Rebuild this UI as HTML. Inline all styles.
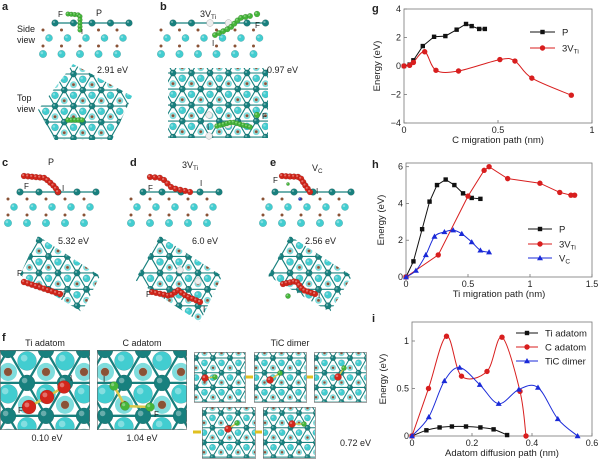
<!DOCTYPE html>
<html><head><meta charset="utf-8"><style>
body{margin:0;background:#fff}
svg{display:block;font-family:"Liberation Sans",sans-serif}
</style></head><body>
<svg id="fig" width="600" height="461" viewBox="0 0 600 461" xmlns="http://www.w3.org/2000/svg">
<defs>
<clipPath id="clipA"><polygon points="73,64 132,96 112,140 55,140 38,110"/></clipPath>
<clipPath id="clipB"><rect x="168" y="68" width="100" height="70"/></clipPath>
<clipPath id="clipC"><polygon points="38,236 100,276 82,312 20,275"/></clipPath>
<clipPath id="clipD"><polygon points="160,236 222,276 200,322 135,280"/></clipPath>
<clipPath id="clipE"><polygon points="290,236 352,276 330,312 268,276"/></clipPath>
<clipPath id="clipF1"><rect x="0" y="350" width="90" height="80"/></clipPath>
<clipPath id="clipF2"><rect x="97" y="350" width="90" height="80"/></clipPath>
<clipPath id="clipT1"><rect x="194" y="352" width="51" height="50"/></clipPath>
<clipPath id="clipT2"><rect x="254" y="352" width="52" height="50"/></clipPath>
<clipPath id="clipT3"><rect x="314" y="352" width="52" height="50"/></clipPath>
<clipPath id="clipT4"><rect x="202" y="407" width="53" height="51"/></clipPath>
<clipPath id="clipT5"><rect x="263" y="407" width="52" height="51"/></clipPath>
</defs>
<g id="structs"></g>
<g id="charts"></g>
</svg>
<script>
// ---------- chart data ----------
const gPx=[0,0.03,0.05,0.1,0.16,0.22,0.28,0.33,0.36,0.4,0.43];
const gPy=[0,0.1,0.4,1.4,2.05,2.1,2.55,2.95,2.8,2.6,2.6];
const gVx=[0,0.03,0.05,0.11,0.17,0.29,0.51,0.59,0.68,0.89];
const gVy=[0,0.05,0.25,1.0,-0.3,-0.35,0.45,0.35,-0.85,-2.05];
const gXt=[0,0.5,1], gXl=['0','0.5','1'];
const gYt=[-4,-2,0,2,4], gYl=['−4','−2','0','2','4'];

const hPx=[0,0.06,0.13,0.19,0.25,0.32,0.39,0.46,0.53,0.6];
const hPy=[0,0.85,2.6,4.1,5.0,5.3,5.0,4.55,4.3,4.25];
const hVx=[0,0.26,0.5,0.63,0.67,0.82,1.08,1.24,1.33,1.36];
const hVy=[0,1.2,4.4,5.8,6.0,5.35,5.1,4.6,4.45,4.45];
const hCx=[0,0.08,0.16,0.23,0.31,0.38,0.45,0.53,0.6,0.67];
const hCy=[0,0.35,1.2,2.2,2.45,2.55,2.35,1.9,1.45,1.35];
const hXt=[0,0.5,1,1.5], hXl=['0','0.5','1','1.5'];
const hYt=[0,2,4,6], hYl=['0','2','4','6'];

const iTx=[0,0.048,0.092,0.133,0.18,0.228,0.272,0.317];
const iTy=[0,0.06,0.09,0.1,0.1,0.09,0.07,0.01];
const iCx=[0,0.055,0.115,0.165,0.25,0.3,0.36,0.38];
const iCy=[0,0.5,1.05,0.63,0.68,1.04,0.47,0];
const iDx=[0,0.056,0.108,0.159,0.226,0.289,0.356,0.42,0.486,0.552];
const iDy=[0,0.2,0.58,0.72,0.54,0.34,0.49,0.51,0.18,0.0];
const iXt=[0,0.2,0.4,0.6], iXl=['0','0.2','0.4','0.6'];
const iYt=[0,0.5,1], iYl=['0','0.5','1'];

const NS='http://www.w3.org/2000/svg';
function el(tag,attrs,parent){const e=document.createElementNS(NS,tag);for(const k in attrs)e.setAttribute(k,attrs[k]);parent.appendChild(e);return e;}
function txt(parent,x,y,s,size,anchor,weight){const t=el('text',{x:x,y:y,'font-size':size,'text-anchor':anchor||'start','font-weight':weight||'normal',fill:'#222'},parent);t.textContent=s;return t;}

function spline(pts){let d='M'+pts[0][0]+','+pts[0][1];for(let i=0;i<pts.length-1;i++){const p0=pts[i-1]||pts[i],p1=pts[i],p2=pts[i+1],p3=pts[i+2]||p2;const c1=[p1[0]+(p2[0]-p0[0])/6,p1[1]+(p2[1]-p0[1])/6],c2=[p2[0]-(p3[0]-p1[0])/6,p2[1]-(p3[1]-p1[1])/6];d+=' C'+c1+' '+c2+' '+p2;}return d;}

function chart(name,b,xmax,ymin,ymax,xt,xl,yt,yl,xlabel,ylx){
  const root=document.getElementById('charts');
  const g=el('g',{},root);
  
  
  const X=v=>b.x0+(v/xmax)*(b.x1-b.x0);
  const Y=v=>b.y1-(v-ymin)/(ymax-ymin)*(b.y1-b.y0);
  const frame=el('rect',{x:b.x0,y:b.y0,width:b.x1-b.x0,height:b.y1-b.y0,fill:'none',stroke:'#777','stroke-width':0.8},g);
  
  
  xt.forEach((v,i)=>{el('line',{x1:X(v),x2:X(v),y1:b.y1,y2:b.y1-3,stroke:'#777','stroke-width':0.8},g);
    const t=txt(g,X(v),b.y1+10,xl[i],9,'middle');});
  yt.forEach((v,i)=>{el('line',{x1:b.x0,x2:b.x0+3,y1:Y(v),y2:Y(v),stroke:'#777','stroke-width':0.8},g);
    const t=txt(g,b.x0-3,Y(v)+3,yl[i],9,'end');});
  const xlab=txt(g,(b.x0+b.x1)/2,b.y1+20,xlabel,9.5,'middle');
  
  const cy=(b.y0+b.y1)/2;
  const ylab=txt(g,ylx,cy,'Energy (eV)',9.5,'middle');ylab.setAttribute('transform','rotate(-90 '+ylx+' '+cy+')');
  
  return {g,X,Y};
}
function series(c,name,xs,ys,color,marker,smooth){
  const g=el('g',{},c.g);
  
  
  const pts=xs.map((x,i)=>[c.X(x),c.Y(ys[i])]);
  if(smooth) el('path',{d:spline(pts),fill:'none',stroke:color,'stroke-width':1},g);
  else el('polyline',{points:pts.map(p=>p.join(',')).join(' '),fill:'none',stroke:color,'stroke-width':1},g);
  pts.forEach(p=>mark(g,p[0],p[1],color,marker));
}
function mark(g,x,y,color,m){
  let e;
  if(m==='s') e=el('rect',{x:x-2.2,y:y-2.2,width:4.4,height:4.4,fill:color},g);
  else if(m==='c') e=el('circle',{cx:x,cy:y,r:2.7,fill:color},g);
  else e=el('polygon',{points:(x)+','+(y-3)+' '+(x+3)+','+(y+2.2)+' '+(x-3)+','+(y+2.2),fill:color},g);
  
  
}
function legend(c,x1,x2,y,color,m,label,sub){
  const g=el('g',{},c.g);
  
  
  el('line',{x1:x1,x2:x2,y1:y,y2:y,stroke:color,'stroke-width':1},g);
  mark(g,(x1+x2)/2,y,color,m);
  const t=txt(g,x2+7,y+3.5,label,9.5);
  if(sub){const s=el('tspan',{'font-size':6.5,dy:2},t);s.textContent=sub;}
}

let cg=chart('chart-g-c-migration',{x0:404,x1:592,y0:9,y1:123},1,-4,4,gXt,gXl,gYt,gYl,'C migration path (nm)',380);
series(cg,'series-p',gPx,gPy,'#111','s',false);
series(cg,'series-3vti',gVx,gVy,'#d81e1e','c',true);
legend(cg,530,555,32,'#111','s','P');
legend(cg,530,555,48,'#d81e1e','c','3V','Ti');
let ch=chart('chart-h-ti-migration',{x0:406,x1:592,y0:163,y1:277},1.5,0,6.2,hXt,hXl,hYt,hYl,'Ti migration path (nm)',384);
series(ch,'series-p',hPx,hPy,'#111','s',false);
series(ch,'series-3vti',hVx,hVy,'#d81e1e','c',false);
series(ch,'series-vc',hCx,hCy,'#1a2ad8','t',true);
legend(ch,528,552,229,'#111','s','P');
legend(ch,528,552,244,'#d81e1e','c','3V','Ti');
legend(ch,528,552,258,'#1a2ad8','t','V','C');
let ci=chart('chart-i-adatom-diffusion',{x0:412,x1:592,y0:322,y1:436},0.6,0,1.2,iXt,iXl,iYt,iYl,'Adatom diffusion path (nm)',386);
series(ci,'series-ti-adatom',iTx,iTy,'#111','s',true);
series(ci,'series-c-adatom',iCx,iCy,'#d81e1e','c',true);
series(ci,'series-tic-dimer',iDx,iDy,'#1a2ad8','t',true);
legend(ci,516,538,333,'#111','s','Ti adatom');
legend(ci,516,538,347,'#d81e1e','c','C adatom');
legend(ci,516,538,361,'#1a2ad8','t','TiC dimer');
const cr=document.getElementById('charts');
[['g',372,12],['h',372,168],['i',372,322]].forEach(a=>{const t=txt(cr,a[1],a[2],a[0],11,'start','bold');});

// ---------- structures ----------
const S=document.getElementById('structs');
const DK='#18807e',CY='#42cdd0',BR='#8a5236',RD='#d3261b',GR='#45b53a';
function panel(name){const g=el('g',{},S);return g;}
function atom(g,x,y,r,col){el('circle',{cx:x,cy:y,r:r,fill:col,stroke:'rgba(0,0,0,0.25)','stroke-width':0.4},g);el('circle',{cx:x-r*0.3,cy:y-r*0.3,r:r*0.35,fill:'rgba(255,255,255,0.35)'},g);}
function side(g,x0,y0,n,dx,vac){
  el('line',{x1:x0-3,x2:x0+(n-1)*dx+3,y1:y0,y2:y0,stroke:DK,'stroke-width':1.2},g);
  for(let i=0;i<n;i++){if(vac&&vac.includes(i)){el('circle',{cx:x0+i*dx,cy:y0,r:3.4,fill:'#eee',stroke:'#aaa','stroke-width':0.5},g);}else atom(g,x0+i*dx,y0,3.4,DK);}
  for(let i=0;i<n;i++){el('circle',{cx:x0-12+i*dx,cy:y0+7,r:1.5,fill:BR},g);}
  for(let i=0;i<n;i++) atom(g,x0-6+i*dx,y0+15,3.6,CY);
  for(let i=0;i<n;i++) el('circle',{cx:x0-12+i*dx,cy:y0+23,r:1.5,fill:BR},g);
  for(let i=0;i<n;i++) atom(g,x0-12+i*dx,y0+31,3.8,CY);
}
function topView(g,clip,x0,y0,cols,rows,s,rd,rc){
  const c=el('g',{'clip-path':'url(#'+clip+')'},g);
  const h=s*0.866;
  const node=(i,j)=>[x0+i*s+(j&1)*s/2,y0+j*h];
  for(let j=-1;j<rows;j++)for(let i=-1;i<cols;i++){const p=node(i,j);
    atom(c,p[0]+s/2,p[1]+s*0.289,rc,CY);
    el('circle',{cx:p[0]+s,cy:p[1]+s*0.577,r:rc*0.95,fill:'#7edddd'},c);
    el('circle',{cx:p[0]+s,cy:p[1]+s*0.577,r:rc*0.45,fill:BR,stroke:'#ccc','stroke-width':0.4},c);}
  for(let j=-1;j<rows;j++)for(let i=-1;i<cols;i++){const p=node(i,j),r=node(i+1,j),d1=node(i,j+1),d2=node(i+((j&1)?1:-1),j+1);
    [r,d1,d2].forEach(q=>el('line',{x1:p[0],y1:p[1],x2:q[0],y2:q[1],stroke:DK,'stroke-width':Math.max(0.8,s*0.06)},c));}
  for(let j=-1;j<rows;j++)for(let i=-1;i<cols;i++){const p=node(i,j);atom(c,p[0],p[1],rd,DK);}
  return c;
}
function beads(g,pts,r,col,n){
  let L=[0];for(let i=1;i<pts.length;i++)L.push(L[i-1]+Math.hypot(pts[i][0]-pts[i-1][0],pts[i][1]-pts[i-1][1]));
  const T=L[L.length-1];
  for(let k=0;k<n;k++){const d=T*k/(n-1);let i=1;while(i<L.length-1&&L[i]<d)i++;const f=(d-L[i-1])/((L[i]-L[i-1])||1);
    atom(g,pts[i-1][0]+f*(pts[i][0]-pts[i-1][0]),pts[i-1][1]+f*(pts[i][1]-pts[i-1][1]),r,col);}
}
function label(g,x,y,s,size,anchor,bold,sub){const t=txt(g,x,y,s,size,anchor,bold?'bold':'normal');if(sub){const q=el('tspan',{'font-size':size*0.7,dy:2},t);q.textContent=sub;}return t;}

let p=panel('panel-a');
label(p,2,10,'a',11,'start',true);
side(p,55,23,5,18.5);
beads(p,[[68,14],[80,15],[80,30]],2.4,GR,9);
label(p,58,17,'F',8);label(p,96,16,'P',9);label(p,81,34,'I',7);
label(p,17,32,'Side',9);label(p,17,43,'view',9);
topView(p,'clipA',55,74,6,6,18.5,3.2,3.6);
beads(p,[[68,120],[82,120]],2.6,GR,5);
label(p,97,73,'2.91 eV',9);
label(p,17,101,'Top',9);label(p,17,112,'view',9);

p=panel('panel-b');
label(p,160,10,'b',11,'start',true);
side(p,173,23,6,18.5,[2,3]);
beads(p,[[215,35],[230,28],[240,18],[250,16]],2.8,GR,10);
atom(p,257,14,3,GR);
label(p,200,17,'3V',9,'start',false,'Ti');label(p,255,28,'F',8);label(p,212,46,'I',8);
topView(p,'clipB',173,73,6,5,18.5,3.2,3.6);
[[209,115],[228,125],[209,136]].forEach(q=>el('circle',{cx:q[0],cy:q[1],r:3.3,fill:'#eee',stroke:'#aaa','stroke-width':0.5},p));
beads(p,[[217,126],[232,122],[250,127]],2.6,GR,11);
atom(p,257,115,3,GR);label(p,262,119,'F',8);label(p,207,130,'I',8);
label(p,267,73,'0.97 eV',9);

p=panel('panel-c');
label(p,2,166,'c',11,'start',true);
side(p,20,192,5,19);
beads(p,[[24,176],[45,178],[55,187],[58,192]],3,RD,11);
label(p,48,165,'P',9);label(p,24,189,'F',8);label(p,62,191,'I',8);
topView(p,'clipC',20,240,6,6,19,3.3,3.6);
beads(p,[[24,282],[60,294]],3.1,RD,10);
label(p,17,276,'F',8);label(p,63,297,'I',8);
label(p,58,244,'5.32 eV',9);

p=panel('panel-d');
label(p,130,166,'d',11,'start',true);
side(p,143,192,5,19);
beads(p,[[150,177],[162,178],[172,188],[190,192]],3,RD,10);
label(p,182,168,'3V',9,'start',false,'Ti');label(p,148,191,'F',8);label(p,200,186,'I',8);
topView(p,'clipD',160,240,6,6,19,3.3,3.6);
[[180,270],[198,281]].forEach(q=>el('circle',{cx:q[0],cy:q[1],r:3.3,fill:'#eee',stroke:'#bbb','stroke-width':0.6},p));
beads(p,[[152,292],[170,296],[178,290],[186,296],[200,302]],3,RD,14);
label(p,146,297,'F',8);label(p,203,312,'I',8);
label(p,192,244,'6.0 eV',9);

p=panel('panel-e');
label(p,270,166,'e',11,'start',true);
side(p,275,192,5,19);
beads(p,[[282,176],[300,177],[305,185],[310,192]],3,RD,10);
atom(p,288,184,1.6,GR);atom(p,300,199,1.6,'#2233bb');
label(p,312,171,'V',9,'start',false,'C');label(p,273,183,'F',8);label(p,316,194,'I',8);
topView(p,'clipE',290,240,6,6,19,3.3,3.6);
beads(p,[[283,284],[296,281],[303,290],[315,294]],3,RD,11);
atom(p,288,296,2.6,GR);
label(p,318,298,'I',8);
label(p,305,244,'2.56 eV',9);

p=panel('panel-f');
label(p,2,341,'f',11,'start',true);
label(p,45,346,'Ti adatom',9,'middle');
label(p,142,346,'C adatom',9,'middle');
label(p,290,346,'TiC dimer',9,'middle');
topView(p,'clipF1',8,350,3,3,38,8,9.5);
el('rect',{x:0.5,y:350.5,width:89,height:79,fill:'none',stroke:'#666','stroke-width':0.6},p);
el('line',{x1:29,y1:407,x2:64,y2:387,stroke:'#d8c84a','stroke-width':2.5},p);
atom(p,29,407,7,RD);atom(p,47,397,7,RD);atom(p,64,387,6.5,RD);
label(p,18,413,'F',8);label(p,70,381,'I',8);
topView(p,'clipF2',105,350,3,3,38,8,9.5);
el('rect',{x:97.5,y:350.5,width:89,height:79,fill:'none',stroke:'#666','stroke-width':0.6},p);
el('polyline',{points:'114,386 125,406 150,407',fill:'none',stroke:'#d8c84a','stroke-width':2.5},p);
atom(p,114,386,4.5,GR);atom(p,125,406,4.5,GR);atom(p,150,407,4.5,GR);
label(p,103,382,'I',8);label(p,154,417,'F',8);
label(p,47,441,'0.10 eV',9,'middle');label(p,142,441,'1.04 eV',9,'middle');
const boxes=[['clipT1',194,352,51,50,205,378,215,377],['clipT2',254,352,52,50,270,380,280,373],['clipT3',314,352,52,50,338,377,344,368],['clipT4',202,407,53,51,228,429,237,423],['clipT5',263,407,52,51,292,424,304,424]];
boxes.forEach(bx=>{topView(p,bx[0],bx[1]+2,bx[2]+6,4,4,17,2.8,3.2);
  el('rect',{x:bx[1]+0.5,y:bx[2]+0.5,width:bx[3],height:bx[4],fill:'none',stroke:'#666','stroke-width':0.6},p);
  el('line',{x1:bx[5],y1:bx[6],x2:bx[7],y2:bx[8],stroke:'#d8c84a','stroke-width':1.5},p);
  atom(p,bx[5],bx[6],3.6,RD);atom(p,bx[7],bx[8],2.6,GR);});
[[246,377,253],[307,377,313],[193,432,201],[255,432,262]].forEach(a=>{el('line',{x1:a[0],x2:a[2],y1:a[1],y2:a[1],stroke:'#e0c020','stroke-width':3},p);});
label(p,340,446,'0.72 eV',9);
</script>
</body></html>
